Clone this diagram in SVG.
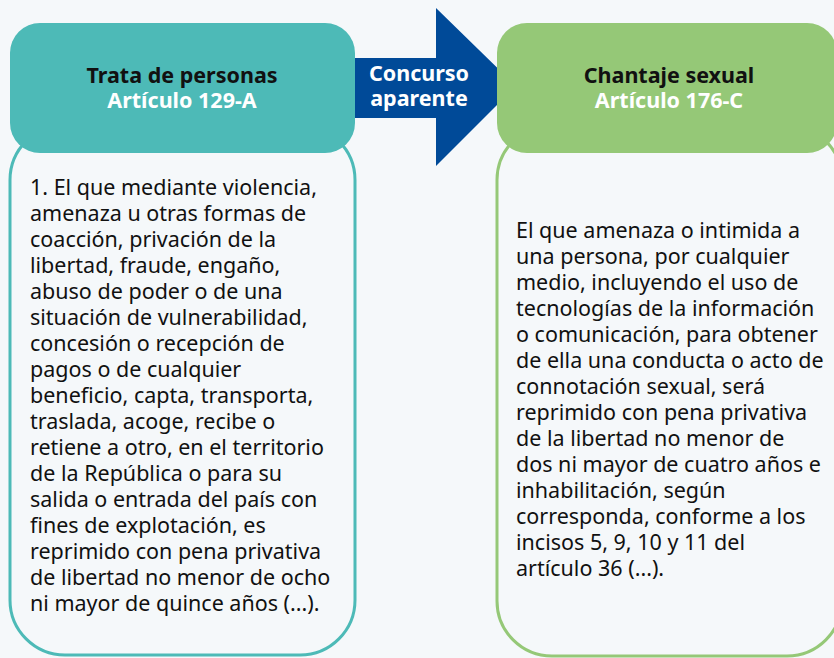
<svg xmlns="http://www.w3.org/2000/svg" width="834" height="658" viewBox="0 0 834 658">
<style>
.t{font-family:"Noto Sans","Open Sans",sans-serif;font-size:21.5px;fill:#111}
.h{font-family:"Noto Sans","Open Sans",sans-serif;font-size:21.5px;font-weight:bold;text-anchor:middle}
</style>
<rect width="834" height="658" fill="#f5f8fa"/>
<g id="connectors">
<path d="M354 58 H436 V8 L516 86 L436 166 V118 H354 Z" fill="#004a98"/>
<text class="h" x="419" y="81" fill="#fff">Concurso</text>
<text class="h" x="419" y="106" fill="#fff">aparente</text>
</g>
<g id="trata">
<rect x="10" y="125" width="345" height="530" rx="55" fill="none" stroke="#4dbab7" stroke-width="3"/>
<rect x="10" y="23" width="345" height="130" rx="30" fill="#4dbab7"/>
<text class="h" x="182" y="83" fill="#111">Trata de personas</text>
<text class="h" x="182" y="108" fill="#fff">Artículo 129-A</text>
<text class="t">
<tspan x="30" y="195">1. El que mediante violencia,</tspan>
<tspan x="30" dy="26">amenaza u otras formas de</tspan>
<tspan x="30" dy="26">coacción, privación de la</tspan>
<tspan x="30" dy="26">libertad, fraude, engaño,</tspan>
<tspan x="30" dy="26">abuso de poder o de una</tspan>
<tspan x="30" dy="26">situación de vulnerabilidad,</tspan>
<tspan x="30" dy="26">concesión o recepción de</tspan>
<tspan x="30" dy="26">pagos o de cualquier</tspan>
<tspan x="30" dy="26">beneficio, capta, transporta,</tspan>
<tspan x="30" dy="26">traslada, acoge, recibe o</tspan>
<tspan x="30" dy="26">retiene a otro, en el territorio</tspan>
<tspan x="30" dy="26">de la República o para su</tspan>
<tspan x="30" dy="26">salida o entrada del país con</tspan>
<tspan x="30" dy="26">fines de explotación, es</tspan>
<tspan x="30" dy="26">reprimido con pena privativa</tspan>
<tspan x="30" dy="26">de libertad no menor de ocho</tspan>
<tspan x="30" dy="26">ni mayor de quince años (...).</tspan>
</text>
</g>
<g id="chantaje">
<rect x="497" y="125" width="345" height="531" rx="55" fill="none" stroke="#95c877" stroke-width="3"/>
<rect x="497" y="23" width="340" height="130" rx="30" fill="#95c877"/>
<text class="h" x="669" y="83" fill="#111">Chantaje sexual</text>
<text class="h" x="669" y="108" fill="#fff">Artículo 176-C</text>
<text class="t">
<tspan x="516" y="238">El que amenaza o intimida a</tspan>
<tspan x="516" dy="26">una persona, por cualquier</tspan>
<tspan x="516" dy="26">medio, incluyendo el uso de</tspan>
<tspan x="516" dy="26">tecnologías de la información</tspan>
<tspan x="516" dy="26">o comunicación, para obtener</tspan>
<tspan x="516" dy="26">de ella una conducta o acto de</tspan>
<tspan x="516" dy="26">connotación sexual, será</tspan>
<tspan x="516" dy="26">reprimido con pena privativa</tspan>
<tspan x="516" dy="26">de la libertad no menor de</tspan>
<tspan x="516" dy="26">dos ni mayor de cuatro años e</tspan>
<tspan x="516" dy="26">inhabilitación, según</tspan>
<tspan x="516" dy="26">corresponda, conforme a los</tspan>
<tspan x="516" dy="26">incisos 5, 9, 10 y 11 del</tspan>
<tspan x="516" dy="26">artículo 36 (...).</tspan>
</text>
</g>
</svg>
